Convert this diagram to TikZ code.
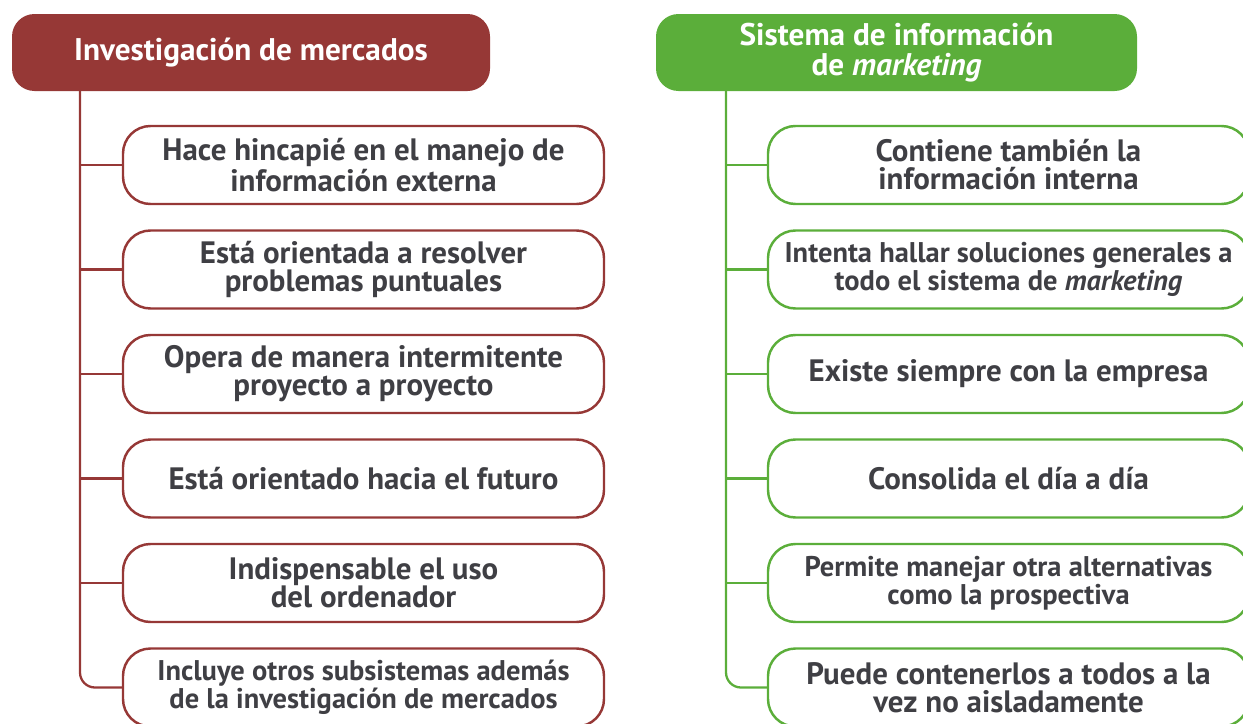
\documentclass[tikz,border=0pt]{standalone}
\usepackage{fontspec}
\setmainfont{PT Sans}
\usetikzlibrary{positioning}
\definecolor{mercado}{HTML}{963836}
\definecolor{sistema}{HTML}{5BAE3A}
\definecolor{texto}{HTML}{3F3F44}
\begin{document}
\begin{tikzpicture}[thick, node distance=2.09cm,
  head node/.style={rectangle,rounded corners=0.45cm,minimum width=9.56cm,minimum height=1.54cm,text=white,font=\fontsize{17.8}{17}\selectfont\bfseries,align=center},
  item node/.style={rectangle,draw,line width=1.4pt,rounded corners=0.55cm,fill=white,minimum width=9.62cm,minimum height=1.56cm,text=texto,font=\fontsize{17.6}{16}\selectfont\bfseries,align=center},
  small text/.style={font=\fontsize{16.2}{16}\selectfont\bfseries},
  branch/.style={line width=1.3pt}]
\useasboundingbox (0,0) rectangle (24.86,-14.46);
\clip (0,0) rectangle (24.86,-14.46);
\node[head node,fill=mercado](lh) at (5.02,-1.05){Investigación de mercados};
\node[head node,fill=sistema,minimum width=9.62cm](rh) at (17.93,-1.05){Sistema de información\\de \textit{marketing}};
% investigacion de mercados
\node[item node,draw=mercado](l1) at (7.27,-3.30){Hace hincapié en el manejo de\\información externa};
\node[item node,draw=mercado](l2)[below of=l1]{Está orientada a resolver\\problemas puntuales};
\node[item node,draw=mercado](l3)[below of=l2]{Opera de manera intermitente\\proyecto a proyecto};
\node[item node,draw=mercado](l4)[below of=l3]{Está orientado hacia el futuro};
\node[item node,draw=mercado](l5)[below of=l4]{Indispensable el uso\\del ordenador};
\node[item node,draw=mercado,small text](l6)[below of=l5]{Incluye otros subsistemas además\\de la investigación de mercados};
% sistema de informacion
\node[item node,draw=sistema](r1) at (20.17,-3.30){Contiene también la\\información interna};
\node[item node,draw=sistema,small text](r2)[below of=r1]{Intenta hallar soluciones generales a\\todo el sistema de \textit{marketing}};
\node[item node,draw=sistema](r3)[below of=r2]{Existe siempre con la empresa};
\node[item node,draw=sistema](r4)[below of=r3]{Consolida el día a día};
\node[item node,draw=sistema,small text](r5)[below of=r4]{Permite manejar otra alternativas\\como la prospectiva};
\node[item node,draw=sistema](r6)[below of=r5]{Puede contenerlos a todos a la\\vez no aisladamente};
\coordinate(lt) at (1.6,-1.82);
\coordinate(rt) at (14.52,-1.82);
\draw[branch,mercado,rounded corners=0.3cm](lt) |- (l6.west);
\draw[branch,mercado](lt |- l1.west) -- (l1.west);
\draw[branch,mercado](lt |- l2.west) -- (l2.west);
\draw[branch,mercado](lt |- l3.west) -- (l3.west);
\draw[branch,mercado](lt |- l4.west) -- (l4.west);
\draw[branch,mercado](lt |- l5.west) -- (l5.west);
\draw[branch,sistema,rounded corners=0.3cm](rt) |- (r6.west);
\draw[branch,sistema](rt |- r1.west) -- (r1.west);
\draw[branch,sistema](rt |- r2.west) -- (r2.west);
\draw[branch,sistema](rt |- r3.west) -- (r3.west);
\draw[branch,sistema](rt |- r4.west) -- (r4.west);
\draw[branch,sistema](rt |- r5.west) -- (r5.west);
\end{tikzpicture}
\end{document}
